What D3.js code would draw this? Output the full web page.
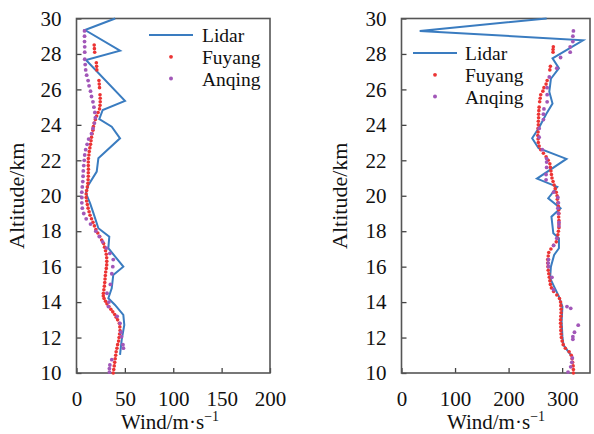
<!DOCTYPE html>
<html>
<head>
<meta charset="utf-8">
<script src="https://cdn.jsdelivr.net/npm/d3@7"></script>
<style>
  html, body { margin: 0; padding: 0; background: #fff; }
  svg text { font-family: "Liberation Serif", "Times New Roman", serif; fill: #111; }
</style>
</head>
<body>
<svg id="chart" width="594" height="434"></svg>
<script>
// Wind profiles: [altitude km, wind speed m/s]
const lidarA = [[30,40],[29.35,8.8],[28.18,45],[27.66,9.8],[25.35,50.1],[24.84,27.1],[24.33,23.6],[23.9,36.4],[23.24,45],[22.11,22.6],[21.36,20.9],[20.6,12.2],[20.14,9.8],[19.58,14],[18.92,18.1],[18.17,22.6],[17.69,33.9],[17.04,32.9],[16.0,48.4],[15.53,38],[14.78,36.4],[14.22,32.9],[13.84,39.8],[13.28,48.4],[12.71,49.4],[11.87,46.7],[11.02,45]];

const fuyangA = [[10.0,38],[10.2,38.5],[10.4,39],[10.6,39.5],[10.8,40],[11.0,40.5],[11.2,41],[11.4,41.8],[11.6,42.5],[11.8,43.5],[12.0,44],[12.2,44.5],[12.4,45],[12.6,44.8],[12.8,44.3],[13.0,42.5],[13.15,41],[13.3,39.5],[13.45,37.5],[13.6,35.5],[13.75,33.5],[13.9,31.5],[14.05,30],[14.2,28.5],[14.35,27.7],[14.5,27.8],[14.7,28.3],[14.9,28.8],[15.1,29.2],[15.3,29.5],[15.5,29.8],[15.7,30.2],[15.9,30.8],[16.1,31.2],[16.3,31.3],[16.5,31.2],[16.7,30.8],[16.9,30],[17.1,29],[17.3,28],[17.5,26],[17.7,24],[17.9,22],[18.1,20],[18.3,18.5],[18.5,17],[18.7,15.5],[18.9,14],[19.1,13],[19.3,12],[19.5,11.2],[19.7,10.5],[19.9,10],[20.1,10],[20.3,10.5],[20.5,11.2],[20.7,11.8],[20.9,12],[21.1,12.2],[21.3,12.2],[21.5,12.3],[21.7,12.2],[21.9,12.2],[22.1,12.3],[22.3,12.8],[22.5,13.2],[22.7,13.8],[22.9,14.5],[23.1,15],[23.3,15.5],[23.5,16.2],[23.7,17],[23.9,17.5],[24.1,18.3],[24.3,19.5],[24.5,20.8],[24.7,22.3],[24.9,23.8],[25.1,24.3],[25.3,24.5],[25.5,24.5],[25.7,24.3],[26.1,23.8],[26.3,23.5],[26.5,23.2],[27.1,21],[27.3,20.8],[27.5,20.5],[28.1,18.8],[28.3,18.5],[28.5,18.3]];

const anqingA = [[10.05,34],[10.25,34],[10.45,34.5],[10.75,36.5],[11.4,48.5],[11.6,48],[12.05,46.5],[12.3,46],[12.8,45],[13.2,42],[13.75,33],[14.0,33.5],[14.5,31.5],[15.0,35],[15.6,36.5],[16.0,37.5],[16.4,38],[16.75,34.5],[17.05,31],[17.4,27],[17.7,23.5],[18.0,20],[18.4,14.5],[18.7,10],[19.0,7.5],[19.3,6],[19.6,5.5],[19.9,5.5],[20.2,5.5],[20.5,6],[20.8,6.5],[21.1,6.8],[21.4,7],[21.7,7.5],[22.0,8],[22.3,8.5],[22.6,9.5],[22.9,11],[23.2,12.5],[23.5,15.5],[23.8,17],[24.1,18.5],[24.4,19.5],[24.7,19],[25.0,18],[25.3,17],[25.6,15.5],[25.9,14.5],[26.2,13],[26.5,12],[26.8,10.5],[27.1,9.5],[27.4,9],[27.7,8.5],[28.1,8.5],[28.4,8.5],[28.7,8.3],[29.0,8.3],[29.3,8.3]];

const lidarB = [[30,271],[29.3,34],[28.77,339],[27.75,282],[27.2,294],[26.6,279],[25.87,276],[25.2,282],[24.6,270],[23.85,257],[23.24,244],[22.68,256],[22.08,308],[20.97,253],[20.5,291],[19.86,274],[19.29,297],[18.82,280],[17.88,283.5],[17.6,294],[17.04,294],[16.66,285],[16.0,279],[15.35,277.5],[14.87,285],[14.31,294],[13.75,300.5],[12.9,299],[12.05,300.5],[11.58,302.5],[11.02,316]];

const fuyangB = [[10.0,321],[10.2,321],[10.4,320.5],[10.6,319.5],[10.8,318.5],[11.0,317],[11.2,313],[11.4,306],[11.6,302],[11.8,300],[12.0,298.5],[12.2,298],[12.4,297.5],[12.6,297.5],[12.8,297],[13.0,297],[13.2,297.5],[13.4,298],[13.6,298],[13.8,297.5],[14.0,297],[14.2,295],[14.4,290],[14.6,284],[14.8,280],[15.0,278],[15.2,277],[15.4,276],[15.6,275],[15.8,274],[16.0,273.5],[16.2,273],[16.4,273],[16.6,274],[16.8,275],[17.0,279],[17.2,284],[17.4,289],[17.6,291],[17.8,292],[18.0,293],[18.2,294],[18.4,294],[18.6,294],[18.8,293.5],[19.0,294],[19.2,293.5],[19.4,293],[19.6,292],[19.8,291],[20.0,290.5],[20.2,289],[20.4,287],[20.6,285],[20.8,283],[21.0,281],[21.2,280],[21.4,279],[21.6,278],[21.8,277],[22.0,274],[22.2,270],[22.4,265],[22.6,260],[22.8,257],[23.0,255.5],[23.2,255],[23.4,254.5],[23.6,255],[23.8,255],[24.0,255.5],[24.2,255.5],[24.4,256],[24.6,256],[24.8,256.5],[25.0,257],[25.3,258],[25.5,259],[25.7,260],[25.9,264],[26.1,266],[26.3,270],[26.5,272],[27.1,277],[27.3,278],[28.1,283],[28.25,283],[28.4,283.5]];

const anqingB = [[10.05,311],[10.35,316],[10.6,318],[10.85,319],[11.9,320],[12.05,320],[12.3,323],[12.7,330],[13.65,316],[13.75,309],[14.7,284],[15.4,281],[16.0,274.5],[16.2,274],[16.4,274.5],[17.2,284],[17.6,290],[18.3,294],[18.5,294],[19.0,293],[19.3,292],[19.6,293],[19.9,292],[20.2,284],[20.9,270],[21.2,270],[21.6,271],[21.9,271],[22.1,271],[22.6,263],[23.3,257],[23.8,257],[24.3,265],[24.6,265],[24.9,266],[25.3,272],[25.7,272],[26.1,272],[26.7,276],[27.2,290],[27.8,297],[28.1,315],[28.4,315],[28.7,320],[29.0,320],[29.3,321]];

const altTicks = [10,12,14,16,18,20,22,24,26,28,30];
const windTicksA = [0,50,100,150,200];
const windTicksB = [0,100,200,300];
const seriesNames = ["Lidar","Fuyang","Anqing"];

const colors = { lidar: "#3a7cc0", fuyang: "#ec3434", anqing: "#a257b8" };

const svg = d3.select("#chart");
const y = d3.scaleLinear().domain([10, 30]).range([373, 18.5]);

function panel(opt) {
  const x = d3.scaleLinear().domain(opt.domain).range(opt.range);
  const g = svg.append("g");
  const [x0, x1] = opt.range;

  // axes (ticks point into the plot)
  const ax = g.append("g").attr("transform", `translate(0,${y(10)})`)
    .call(d3.axisBottom(x).tickValues(opt.xticks).tickSize(-5).tickPadding(18).tickFormat(d3.format("d")));
  const ay = g.append("g").attr("transform", `translate(${x0},0)`)
    .call(d3.axisLeft(y).tickValues(altTicks).tickSize(-5).tickPadding(15).tickFormat(d3.format("d")));
  [ax, ay].forEach(a => {
    a.select(".domain").remove();
    a.selectAll(".tick line").attr("stroke", "#444").attr("stroke-width", 1.3);
    a.selectAll(".tick text").style("font-size", "21px")
      .style("font-family", '"Liberation Serif", "Times New Roman", serif').attr("fill", "#111");
  });
  ax.selectAll(".tick text").attr("dy", null).attr("y", 32.5);

  // frame
  g.append("rect").attr("x", x0).attr("y", y(30)).attr("width", x1 - x0).attr("height", y(10) - y(30))
    .attr("fill", "none").attr("stroke", "#555").attr("stroke-width", 1.6);

  // lidar profile
  const line = d3.line().x(d => x(d[1])).y(d => y(d[0]));
  g.append("path").datum(opt.lidar).attr("d", line)
    .attr("fill", "none").attr("stroke", colors.lidar).attr("stroke-width", 2);

  // radiosonde points
  g.selectAll(".fy").data(opt.fuyang).join("circle")
    .attr("cx", d => x(d[1])).attr("cy", d => y(d[0])).attr("r", 1.8).attr("fill", colors.fuyang);
  g.selectAll(".aq").data(opt.anqing).join("circle")
    .attr("cx", d => x(d[1])).attr("cy", d => y(d[0])).attr("r", 1.9).attr("fill", colors.anqing);

  // axis titles
  const xt = g.append("text").attr("x", opt.xTitleX).attr("y", 429).attr("text-anchor", "middle")
    .style("font-size", "21px");
  xt.append("tspan").text("Wind/m·s");
  xt.append("tspan").text("−1").attr("dy", -8).style("font-size", "14px");

  g.append("text").attr("transform", `translate(${opt.yTitleX},${(y(10) + y(30)) / 2}) rotate(-90)`)
    .attr("text-anchor", "middle").style("font-size", "22px").text("Altitude/km");

  // legend
  const L = opt.legend;
  const lg = g.append("g");
  lg.append("line").attr("x1", L.lineX).attr("x2", L.lineX + 44).attr("y1", L.y).attr("y2", L.y)
    .attr("stroke", colors.lidar).attr("stroke-width", 2.2);
  lg.append("circle").attr("cx", L.lineX + 22).attr("cy", L.y + L.step).attr("r", 1.9).attr("fill", colors.fuyang);
  lg.append("circle").attr("cx", L.lineX + 22).attr("cy", L.y + 2 * L.step).attr("r", 2).attr("fill", colors.anqing);
  seriesNames.forEach((n, i) => {
    lg.append("text").attr("x", L.textX).attr("y", L.y + i * L.step + 7)
      .style("font-size", "19.5px").text(n);
  });
}

panel({
  domain: [0, 200], range: [76.5, 270], xticks: windTicksA,
  lidar: lidarA, fuyang: fuyangA, anqing: anqingA,
  xTitleX: 170, yTitleX: 24,
  legend: { lineX: 149, textX: 202, y: 35, step: 21.8 }
});

panel({
  domain: [0, 352], range: [401.5, 590], xticks: windTicksB,
  lidar: lidarB, fuyang: fuyangB, anqing: anqingB,
  xTitleX: 496, yTitleX: 347,
  legend: { lineX: 413, textX: 465, y: 53, step: 21.8 }
});
</script>
</body>
</html>
